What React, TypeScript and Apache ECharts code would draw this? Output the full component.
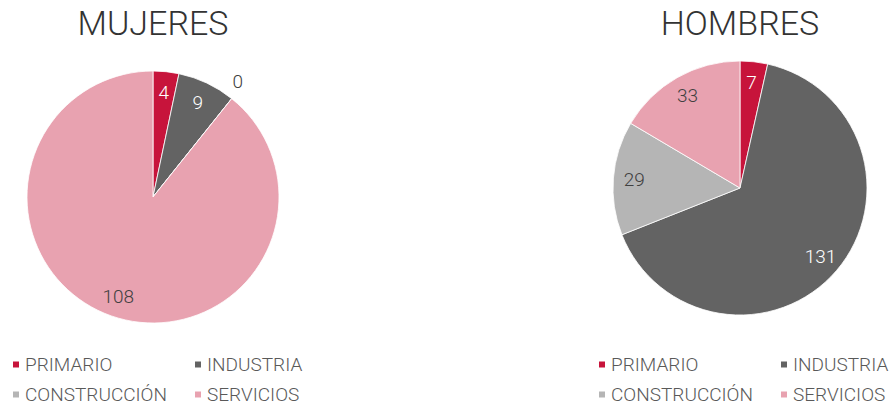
import React, { useEffect, useRef } from "react";
import * as echarts from "echarts";

const categories = ["PRIMARIO", "INDUSTRIA", "CONSTRUCCIÓN", "SERVICIOS"];
const mujeresValues = [4, 9, 0, 108];
const hombresValues = [7, 131, 29, 33];
const colors = ["#C7143B", "#636363", "#B5B5B5", "#E8A2B0"];
const labelColors = ["#ffffff", "#ffffff", "#404040", "#404040"];

const FONT = "Roboto";

function mainSeries(values: number[], center: number[], r: number) {
  return {
    type: "pie",
    center,
    radius: [0, r],
    startAngle: 90,
    clockwise: true,
    silent: true,
    label: { show: false },
    labelLine: { show: false },
    itemStyle: { borderColor: "#ffffff", borderWidth: 0.8 },
    emphasis: { disabled: true },
    data: categories.map((name, i) => ({
      name,
      value: values[i],
      itemStyle: { color: colors[i] },
    })),
  };
}

function labelSeries(values: number[], center: number[], r0: number, r: number) {
  return {
    type: "pie",
    center,
    radius: [r0, r],
    startAngle: 90,
    clockwise: true,
    silent: true,
    avoidLabelOverlap: false,
    itemStyle: { color: "rgba(0,0,0,0)", borderWidth: 0 },
    emphasis: { disabled: true },
    labelLine: { show: false, length: 22, length2: 0 },
    data: categories.map((name, i) => ({
      name,
      value: values[i],
      labelLine: { show: false, length: 22, length2: values[i] === 0 ? -18 : 0 },
      label: {
        show: true,
        position: values[i] === 0 ? "outside" : "inside",
        color: values[i] === 0 ? "#404040" : labelColors[i],
        fontFamily: FONT,
        fontWeight: 300,
        fontSize: 19,
        formatter: "{c}",
      },
    })),
  };
}

function legend(names: string[], left: number) {
  return {
    orient: "vertical",
    left,
    top: 355,
    height: 60,
    padding: 0,
    itemGap: 11,
    itemWidth: 8,
    itemHeight: 8,
    icon: "rect",
    selectedMode: false,
    data: names,
    textStyle: {
      fontFamily: FONT,
      fontWeight: 300,
      fontSize: 19,
      lineHeight: 18,
      color: "#595959",
    },
  };
}

export default function App() {
  const ref = useRef<HTMLDivElement>(null);
  useEffect(() => {
    if (!ref.current) return;
    const chart = echarts.init(ref.current, undefined, { renderer: "svg" });
    chart.setOption({
      animation: false,
      backgroundColor: "#ffffff",
      title: [
        {
          text: "MUJERES",
          left: 153,
          top: 6,
          textAlign: "center",
          padding: 0,
          textStyle: { fontFamily: FONT, fontWeight: 300, fontSize: 34, color: "#333333" },
        },
        {
          text: "HOMBRES",
          left: 740,
          top: 6,
          textAlign: "center",
          padding: 0,
          textStyle: { fontFamily: FONT, fontWeight: 300, fontSize: 34, color: "#333333" },
        },
      ],
      legend: [
        legend([categories[0], categories[2]], 11),
        legend([categories[1], categories[3]], 193),
        legend([categories[0], categories[2]], 597),
        legend([categories[1], categories[3]], 779),
      ],
      series: [
        mainSeries(mujeresValues, [153, 197], 126),
        mainSeries(hombresValues, [740, 188], 127),
        labelSeries(mujeresValues, [153, 197], 78, 126),
        labelSeries(hombresValues, [740, 188], 79, 127),
      ],
    });
    return () => chart.dispose();
  }, []);
  return (
    <div
      ref={ref}
      style={{ position: "fixed", left: 0, top: 0, width: 893, height: 405 }}
    />
  );
}
